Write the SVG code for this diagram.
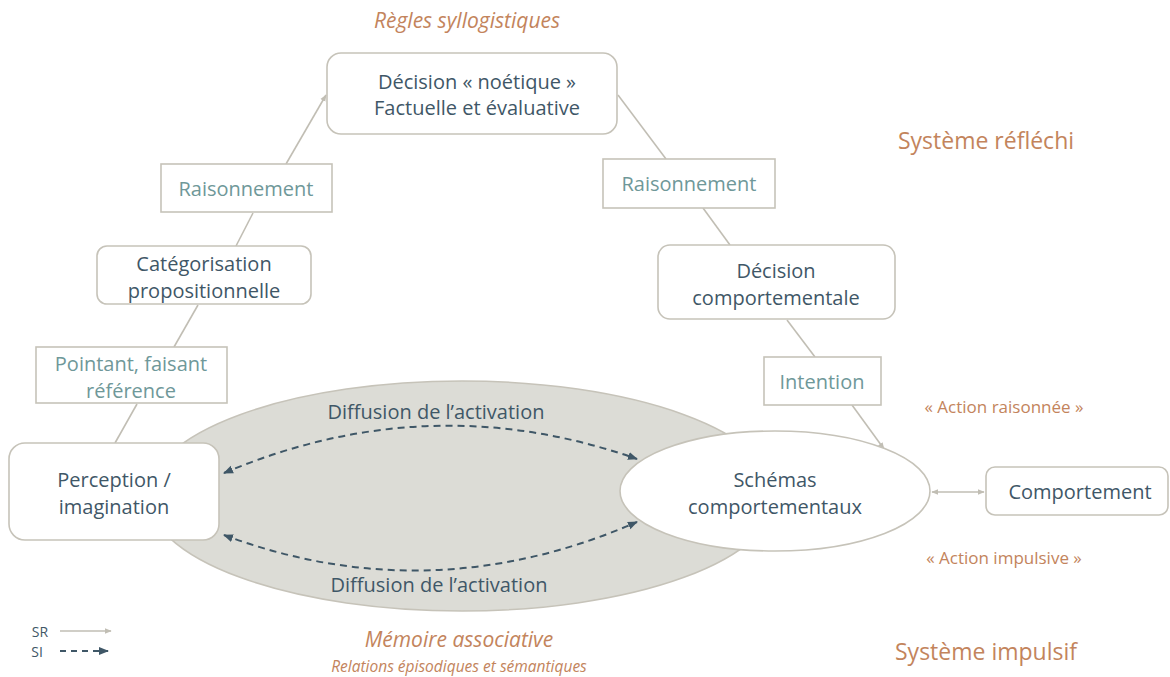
<svg xmlns="http://www.w3.org/2000/svg" width="1170" height="677" viewBox="0 0 1170 677">
<defs>
<style>
text{font-family:"Open Sans","Noto Sans","Liberation Sans",sans-serif;text-anchor:middle;dominant-baseline:central}
.n{font-size:20px;fill:#3f5767}
.t{font-size:20px;fill:#6f9899}
.o{fill:#c3845c}
.box{fill:#fff;stroke:#c6c3b9;stroke-width:1.6}
.c{fill:none;stroke:#c1beb4;stroke-width:1.6}
.d{fill:none;stroke:#3f5767;stroke-width:2;stroke-dasharray:7 5}
</style>
<marker id="ag" viewBox="0 0 10 10" refX="9" refY="5" markerWidth="7" markerHeight="7" orient="auto-start-reverse" markerUnits="userSpaceOnUse">
<path d="M0,1 L10,5 L0,9 Z" fill="#c1beb4"/>
</marker>
<marker id="ad" viewBox="0 0 10 10" refX="9" refY="5" markerWidth="10" markerHeight="10" orient="auto-start-reverse" markerUnits="userSpaceOnUse">
<path d="M0,1 L10,5 L0,9 Z" fill="#3f5767"/>
</marker>
</defs>
<rect width="1170" height="677" fill="#fff"/>

<g id="memoire">
<ellipse cx="462" cy="496" rx="314" ry="115" fill="#dcdcd6" stroke="#c6c3b9" stroke-width="1.5"/>
</g>

<g id="connectors">
<line class="c" x1="115" y1="443" x2="137" y2="404"/>
<line class="c" x1="174" y1="347" x2="198" y2="305"/>
<line class="c" x1="236" y1="246" x2="253" y2="213"/>
<line class="c" x1="286" y1="164" x2="326" y2="95" marker-end="url(#ag)"/>
<line class="c" x1="618" y1="95" x2="666" y2="159"/>
<line class="c" x1="703" y1="208" x2="730" y2="245"/>
<line class="c" x1="787" y1="320" x2="815" y2="357"/>
<line class="c" x1="852" y1="405" x2="884" y2="449" marker-end="url(#ag)"/>
<line class="c" x1="932" y1="492" x2="984" y2="492" marker-start="url(#ag)" marker-end="url(#ag)"/>
<path class="d" d="M224,473 Q430,386 637,459" marker-start="url(#ad)" marker-end="url(#ad)"/>
<path class="d" d="M224,535 Q430,612 637,522" marker-start="url(#ad)" marker-end="url(#ad)"/>
</g>

<g id="decision-noetique">
<rect class="box" x="327" y="53" width="290" height="81" rx="14"/>
<text class="n" x="477" y="81">Décision « noétique »</text>
<text class="n" x="477" y="107">Factuelle et évaluative</text>
</g>
<g id="raisonnement-1">
<rect class="box" x="161" y="164" width="171" height="48"/>
<text class="t" x="246" y="188">Raisonnement</text>
</g>
<g id="categorisation">
<rect class="box" x="97" y="246" width="214" height="58" rx="10"/>
<text class="n" x="204" y="263">Catégorisation</text>
<text class="n" x="204" y="290">propositionnelle</text>
</g>
<g id="pointant">
<rect class="box" x="36" y="347" width="191" height="56"/>
<text class="t" x="131" y="363">Pointant, faisant</text>
<text class="t" x="131" y="390">référence</text>
</g>
<g id="perception">
<rect class="box" x="9" y="443" width="210" height="97" rx="16"/>
<text class="n" x="114" y="479">Perception /</text>
<text class="n" x="114" y="506">imagination</text>
</g>
<g id="raisonnement-2">
<rect class="box" x="603" y="159" width="172" height="49"/>
<text class="t" x="689" y="183">Raisonnement</text>
</g>
<g id="decision-comportementale">
<rect class="box" x="658" y="245" width="237" height="74" rx="12"/>
<text class="n" x="776" y="270">Décision</text>
<text class="n" x="776" y="297">comportementale</text>
</g>
<g id="intention">
<rect class="box" x="764" y="357" width="117" height="48"/>
<text class="t" x="822" y="381">Intention</text>
</g>
<g id="schemas">
<ellipse class="box" cx="775" cy="491" rx="155" ry="60"/>
<text class="n" x="775" y="479">Schémas</text>
<text class="n" x="775" y="506">comportementaux</text>
</g>
<g id="comportement">
<rect class="box" x="986" y="467" width="182" height="48" rx="9"/>
<text class="n" x="1080" y="491">Comportement</text>
</g>

<g id="labels">
<text class="n" x="436" y="411">Diffusion de l’activation</text>
<text class="n" x="439" y="584">Diffusion de l’activation</text>
<text class="o" x="467" y="20" font-size="21" font-style="italic">Règles syllogistiques</text>
<text class="o" x="986" y="140" font-size="23">Système réfléchi</text>
<text class="o" x="1004" y="406" font-size="17">« Action raisonnée »</text>
<text class="o" x="1004" y="557" font-size="17">« Action impulsive »</text>
<text class="o" x="986" y="651" font-size="23">Système impulsif</text>
<text class="o" x="459" y="639" font-size="21" font-style="italic">Mémoire associative</text>
<text class="o" x="459" y="666" font-size="15.5" font-style="italic">Relations épisodiques et sémantiques</text>
</g>

<g id="legend">
<text x="40" y="631" font-size="14" fill="#3f5767">SR</text>
<text x="37" y="651" font-size="14" fill="#3f5767">SI</text>
<line class="c" x1="60" y1="631" x2="111" y2="631" marker-end="url(#ag)"/>
<line stroke="#3f5767" stroke-width="1.8" stroke-dasharray="6 5" x1="60" y1="651" x2="108" y2="651" marker-end="url(#ad)"/>
</g>
</svg>
